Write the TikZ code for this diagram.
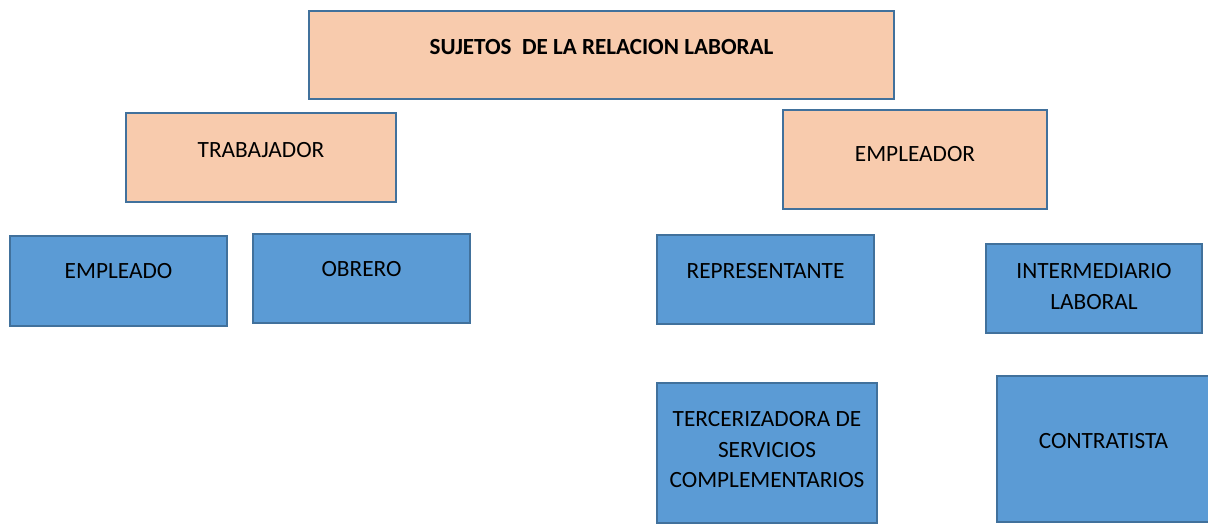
\documentclass[tikz,border=0pt]{standalone}
\usepackage{fontspec}
\setmainfont{Carlito}
\definecolor{boxline}{HTML}{41719C}
\definecolor{orangefill}{HTML}{F8CBAD}
\definecolor{bluefill}{HTML}{5B9BD5}
\begin{document}
\begin{tikzpicture}[x=1pt,y=-1pt,
  basebox/.style={draw=boxline, line width=1.3pt, inner sep=0pt},
  obox/.style={basebox, fill=orangefill},
  bbox/.style={basebox, fill=bluefill},
  lbl/.style={font=\fontsize{23.3}{30.5}\selectfont, text=black, inner sep=0pt, anchor=north, align=center}]
\useasboundingbox (0,0) rectangle (1208,524);
\clip (0,0) rectangle (1208,524);
% boxes
\node[obox, minimum width=585pt, minimum height=88pt] (titulo) at (601.5,55) {};
\node[obox, minimum width=270pt, minimum height=89pt] (trabajador) at (261,157.5) {};
\node[obox, minimum width=264pt, minimum height=99pt] (empleador) at (915,159.5) {};
\node[bbox, minimum width=217pt, minimum height=90pt] (empleado) at (118.5,281) {};
\node[bbox, minimum width=217pt, minimum height=89pt] (obrero) at (361.5,278.5) {};
\node[bbox, minimum width=217pt, minimum height=89pt] (representante) at (765.5,279.5) {};
\node[bbox, minimum width=216pt, minimum height=89pt] (intermediario) at (1094,288.5) {};
\node[bbox, minimum width=220pt, minimum height=140pt] (tercerizadora) at (767,453) {};
\node[bbox, minimum width=213pt, minimum height=146pt] (contratista) at (1103.5,449) {};
% labels
\node[lbl, font=\fontsize{23.1}{30.5}\selectfont\bfseries] (t-titulo) at (titulo.center |- 0,39.5) {SUJETOS\ \ DE LA RELACION LABORAL};
\node[lbl] (t-trabajador) at (trabajador.center |- 0,142.5) {TRABAJADOR};
\node[lbl] (t-empleador) at (empleador.center |- 0,146.5) {EMPLEADOR};
\node[lbl] (t-empleado) at (empleado.center |- 0,263.5) {EMPLEADO};
\node[lbl] (t-obrero) at (obrero.center |- 0,261.5) {OBRERO};
\node[lbl] (t-representante) at (representante.center |- 0,263.5) {REPRESENTANTE};
\node[lbl] (t-intermediario) at (intermediario.center |- 0,263.5) {INTERMEDIARIO\\LABORAL};
\node[lbl] (t-tercerizadora) at (tercerizadora.center |- 0,411.5) {TERCERIZADORA DE\\SERVICIOS\\COMPLEMENTARIOS};
\node[lbl] (t-contratista) at (contratista.center |- 0,433.5) {CONTRATISTA};
\end{tikzpicture}
\end{document}
